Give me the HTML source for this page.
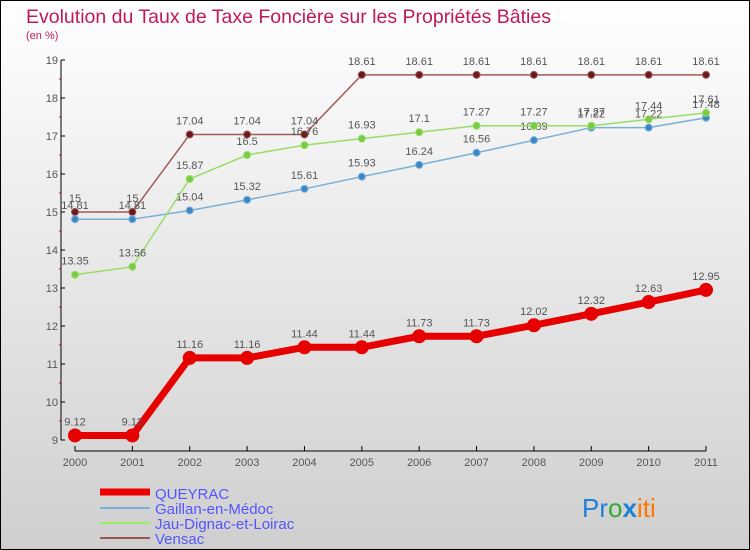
<!DOCTYPE html>
<html><head><meta charset="utf-8"><style>
body{margin:0}
#c{width:750px;height:550px;position:relative;box-sizing:border-box;border:1px solid #000;background:linear-gradient(#ffffff,#cfcfcf);font-family:"Liberation Sans",sans-serif;overflow:hidden}
</style></head><body>
<div id="c">
<svg id="s" width="750" height="550" style="position:absolute;left:-1px;top:-1px">
<text x="26" y="23" font-size="19.5" fill="#c2185b">Evolution du Taux de Taxe Foncière sur les Propriétés Bâties</text>
<text x="26" y="39" font-size="11" fill="#c2185b">(en %)</text>
<g id="axes"></g><g id="series"></g>
<g>
<line x1="100" y1="492" x2="150" y2="492" stroke="#e00" stroke-width="7"/>
<text x="155" y="499" font-size="15" fill="#55f">QUEYRAC</text>
<line x1="100" y1="508" x2="150" y2="508" stroke="#7ab0d8" stroke-width="2"/>
<text x="155" y="514" font-size="15" fill="#55f">Gaillan-en-Médoc</text>
<line x1="100" y1="523" x2="150" y2="523" stroke="#9e6" stroke-width="2"/>
<text x="155" y="529" font-size="15" fill="#55f">Jau-Dignac-et-Loirac</text>
<line x1="100" y1="538" x2="150" y2="538" stroke="#955" stroke-width="2"/>
<text x="155" y="544" font-size="15" fill="#55f">Vensac</text>
</g>
<text x="582" y="517" font-size="26"><tspan fill="#1e7fd6">Pr</tspan><tspan fill="#3a3">o</tspan><tspan fill="#1e7fd6" font-weight="bold">x</tspan><tspan fill="#f70">iti</tspan></text>
</svg>
</div>
<script>
const years=["2000","2001","2002","2003","2004","2005","2006","2007","2008","2009","2010","2011"];
const yTicks=[9,10,11,12,13,14,15,16,17,18,19];
const queyrac=[9.12,9.12,11.16,11.16,11.44,11.44,11.73,11.73,12.02,12.32,12.63,12.95];
const gaillan=[14.81,14.81,15.04,15.32,15.61,15.93,16.24,16.56,16.89,17.22,17.22,17.48];
const jau=[13.35,13.56,15.87,16.5,16.76,16.93,17.1,17.27,17.27,17.27,17.44,17.61];
const vensac=[15,15,17.04,17.04,17.04,18.61,18.61,18.61,18.61,18.61,18.61,18.61];
const NS="http://www.w3.org/2000/svg";
const X0=75,X1=706,Y0=440,Y1=60,VMIN=9,VMAX=19;
const xs=i=>X0+i*(X1-X0)/(years.length-1);
const ys=v=>Y0-(v-VMIN)*(Y0-Y1)/(VMAX-VMIN);
function mk(t,a,p){const e=document.createElementNS(NS,t);for(const k in a)e.setAttribute(k,a[k]);p.appendChild(e);return e;}
const ax=document.getElementById('axes');
let yl=mk('line',{x1:61,y1:Y1,x2:61,y2:Y0,stroke:'#000'},ax);


yTicks.forEach(v=>{
 mk('line',{x1:61,y1:ys(v),x2:65,y2:ys(v),stroke:'#000'},ax);
 if(v<VMAX)mk('line',{x1:59,y1:ys(v+0.5),x2:61,y2:ys(v+0.5),stroke:'#d00'},ax);
 const t=mk('text',{x:58,y:ys(v)+4,'font-size':11,fill:'#555','text-anchor':'end'},ax);t.textContent=v;
 
 
});
let xl=mk('line',{x1:X0,y1:451,x2:X1,y2:451,stroke:'#000'},ax);


years.forEach((y,i)=>{
 mk('line',{x1:xs(i),y1:446,x2:xs(i),y2:451,stroke:'#000'},ax);
 const t=mk('text',{x:xs(i),y:466,'font-size':11,fill:'#555','text-anchor':'middle'},ax);t.textContent=y;
 
 
});
const sg=document.getElementById('series');
function series(d,name,col,dot,w,r){
 const g=mk('g',{},sg);
 
 
 const pl=mk('polyline',{points:d.map((v,i)=>xs(i)+','+ys(v)).join(' '),fill:'none',stroke:col,'stroke-width':w},g);
 
 
 d.forEach((v,i)=>{
  const c=mk('circle',{cx:xs(i),cy:ys(v),r:r,fill:dot,stroke:col,'stroke-width':1},g);
  
  
  const t=mk('text',{x:xs(i),y:ys(v)-10,'font-size':11,fill:'#555','text-anchor':'middle'},g);t.textContent=v;
  
  
 });
}
series(vensac,'vensac','#a05a5a','#6b1a1a',1.5,3.5);
series(gaillan,'gaillan','#7ab0d8','#3a87c8',1.5,3.5);
series(jau,'jau','#99dd66','#77cc44',1.5,3.5);
series(queyrac,'queyrac','#e60000','#e60000',7,6.5);
</script>
</body></html>
